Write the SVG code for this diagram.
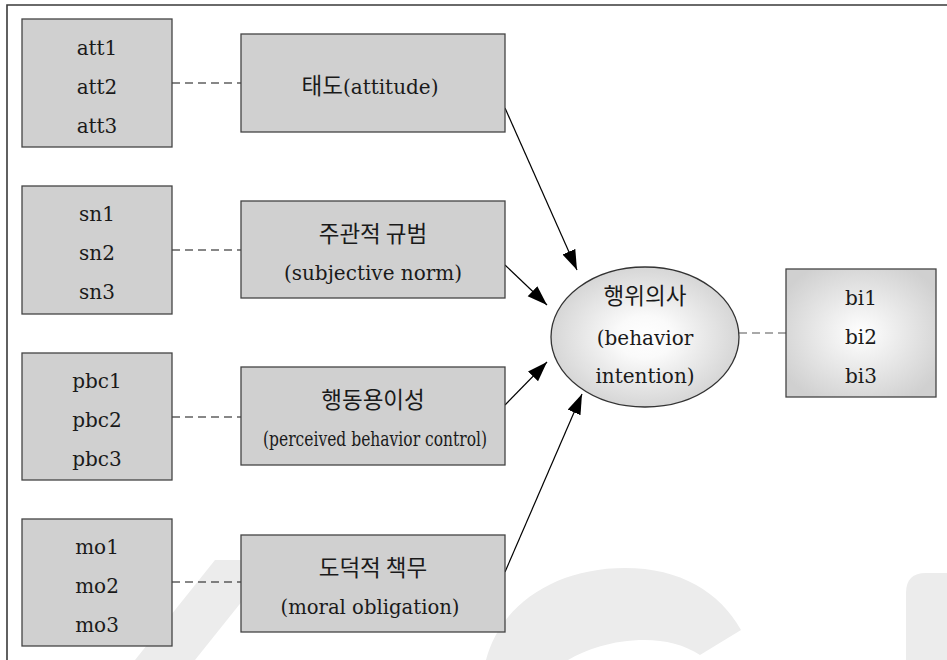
<svg xmlns="http://www.w3.org/2000/svg" width="947" height="660" viewBox="0 0 947 660">
  <defs>
    <marker id="arrow" markerUnits="userSpaceOnUse" markerWidth="22" markerHeight="16" refX="20" refY="7" orient="auto">
      <path d="M0,0 L20,7 L0,14 Z" fill="#000"/>
    </marker>
    <radialGradient id="ellGrad" cx="50%" cy="50%" r="50%">
      <stop offset="0" stop-color="#ffffff"/>
      <stop offset="0.3" stop-color="#fafafa"/>
      <stop offset="1" stop-color="#d6d6d6"/>
    </radialGradient>
    <radialGradient id="biGrad" cx="50%" cy="50%" r="60%">
      <stop offset="0" stop-color="#ffffff"/>
      <stop offset="1" stop-color="#d0d0d0"/>
    </radialGradient>
  </defs>
  <style>
    .box { fill: #d0d0d0; stroke: #444; stroke-width: 1.3; }
    .t { font-family: "DejaVu Serif", "Noto Sans CJK KR", serif; font-size: 20px; fill: #1a1a1a; text-anchor: middle; }
    .k { font-family: "Noto Sans CJK KR", "DejaVu Serif", sans-serif; font-size: 22.5px; fill: #1a1a1a; text-anchor: middle; }
    .dash { stroke: #111; stroke-width: 1.1; stroke-dasharray: 8 5; fill: none; }
    .arr { stroke: #000; stroke-width: 1.2; fill: none; marker-end: url(#arrow); }
    .wm { fill: #ececec; }
  </style>

  <rect x="0" y="0" width="947" height="660" fill="#ffffff"/>

  <!-- watermark -->
  <g id="watermark">
    <polygon class="wm" points="135,660 195,660 275,560 215,560"/>
    <path class="wm" d="M486,660 C500,605 555,568 625,568 C680,568 720,592 741,630 L700,655 C685,645 665,640 645,640 C612,640 585,650 568,660 Z"/>
    <path class="wm" d="M906,660 L906,593 Q906,573 926,573 L947,573 L947,660 Z"/>
  </g>

  <!-- frame -->
  <path d="M947,5 L7,5 L7,660" fill="none" stroke="#3a3a3a" stroke-width="1.6"/>

  <g id="connectors">
    <line class="dash" x1="172" y1="83" x2="241" y2="83"/>
    <line class="dash" x1="172" y1="250" x2="241" y2="250"/>
    <line class="dash" x1="172" y1="417" x2="241" y2="417"/>
    <line class="dash" x1="172" y1="582" x2="241" y2="582"/>
    <line class="dash" x1="739" y1="333" x2="786" y2="333" style="stroke:#555"/>
    <line class="arr" x1="505" y1="108" x2="577" y2="270"/>
    <line class="arr" x1="505" y1="265" x2="547" y2="305"/>
    <line class="arr" x1="505" y1="405" x2="547" y2="362"/>
    <line class="arr" x1="505" y1="572" x2="582" y2="394"/>
  </g>

  <g id="att">
    <rect class="box" x="22" y="19" width="150" height="128"/>
    <text class="t" x="97" y="55">att1</text>
    <text class="t" x="97" y="94">att2</text>
    <text class="t" x="97" y="133">att3</text>
  </g>
  <g id="sn">
    <rect class="box" x="22" y="186" width="150" height="128"/>
    <text class="t" x="97" y="221">sn1</text>
    <text class="t" x="97" y="260">sn2</text>
    <text class="t" x="97" y="299">sn3</text>
  </g>
  <g id="pbc">
    <rect class="box" x="22" y="353" width="150" height="127"/>
    <text class="t" x="97" y="388">pbc1</text>
    <text class="t" x="97" y="427">pbc2</text>
    <text class="t" x="97" y="466">pbc3</text>
  </g>
  <g id="mo">
    <rect class="box" x="22" y="519" width="150" height="127"/>
    <text class="t" x="97" y="554">mo1</text>
    <text class="t" x="97" y="593">mo2</text>
    <text class="t" x="97" y="632">mo3</text>
  </g>

  <g id="attitude">
    <rect class="box" x="241" y="34" width="264" height="98"/>
    <text class="t" x="370" y="94"><tspan style="font-family:'Noto Sans CJK KR',sans-serif;font-size:22.5px">태도</tspan>(attitude)</text>
  </g>
  <g id="subjective-norm">
    <rect class="box" x="241" y="201" width="264" height="97"/>
    <text class="k" x="373" y="242">주관적 규범</text>
    <text class="t" x="373" y="280">(subjective norm)</text>
  </g>
  <g id="perceived-behavior-control">
    <rect class="box" x="241" y="367" width="264" height="98"/>
    <text class="k" x="373" y="408">행동용이성</text>
    <text class="t" x="375" y="446" textLength="224" lengthAdjust="spacingAndGlyphs">(perceived behavior control)</text>
  </g>
  <g id="moral-obligation">
    <rect class="box" x="241" y="535" width="264" height="97"/>
    <text class="k" x="373" y="576">도덕적 책무</text>
    <text class="t" x="370" y="614" textLength="179" lengthAdjust="spacingAndGlyphs">(moral obligation)</text>
  </g>

  <g id="behavior-intention">
    <ellipse cx="645" cy="337" rx="94" ry="70" fill="url(#ellGrad)" stroke="#333" stroke-width="1.3"/>
    <text class="k" x="645" y="304">행위의사</text>
    <text class="t" x="645" y="345">(behavior</text>
    <text class="t" x="645" y="383">intention)</text>
  </g>

  <g id="bi">
    <rect x="786" y="269" width="150" height="128" fill="url(#biGrad)" stroke="#444" stroke-width="1.3"/>
    <text class="t" x="861" y="305">bi1</text>
    <text class="t" x="861" y="344">bi2</text>
    <text class="t" x="861" y="383">bi3</text>
  </g>
</svg>
